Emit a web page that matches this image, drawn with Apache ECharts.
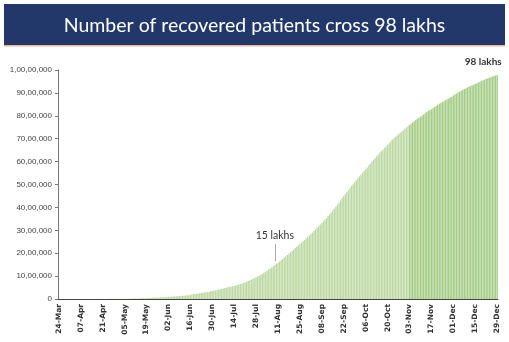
<!DOCTYPE html>
<html><head><meta charset="utf-8">
<script src="https://cdn.jsdelivr.net/npm/echarts@6/dist/echarts.min.js"></script>
<style>html,body{margin:0;padding:0;background:#fff}#c{width:509px;height:342px}</style>
</head><body><div id="c"></div>
<script>
// Daily dates, 24-Mar to 29-Dec (2020)
const startDate = '2020-03-24';
const dayCount = 281;
// Cumulative recovered patients, in lakhs, one value per day
const recoveredLakhs = [
 0.00,0.00,0.00,0.00,0.00,0.00,0.00,0.00,0.00,0.00,0.00,0.00,0.00,0.00,
 0.00,0.01,0.01,0.01,0.01,0.01,0.01,0.01,0.01,0.02,0.02,0.02,0.03,0.03,
 0.04,0.04,0.05,0.05,0.06,0.06,0.07,0.07,0.08,0.09,0.09,0.10,0.11,0.12,
 0.13,0.14,0.15,0.16,0.17,0.19,0.21,0.22,0.24,0.26,0.28,0.31,0.34,0.36,
 0.39,0.42,0.46,0.49,0.52,0.55,0.58,0.61,0.64,0.68,0.71,0.77,0.82,0.91,
 0.96,1.00,1.04,1.09,1.14,1.19,1.24,1.30,1.35,1.41,1.47,1.54,1.62,1.69,
 1.87,1.94,2.04,2.14,2.27,2.37,2.48,2.58,2.71,2.85,2.95,3.09,3.21,3.34,
 3.48,3.60,3.79,3.95,4.10,4.24,4.40,4.57,4.77,4.96,5.15,5.34,5.35,5.53,
 5.72,5.93,6.12,6.35,6.53,6.77,7.01,7.24,7.54,7.83,8.17,8.49,8.85,9.17,
 9.52,9.89,10.20,10.57,10.95,11.46,11.87,12.30,12.82,13.28,13.78,14.27,14.80,15.35,
 15.83,16.39,16.96,17.51,18.08,18.62,19.20,19.78,20.38,20.97,21.58,22.23,22.80,23.38,
 24.04,24.67,25.23,25.84,26.49,27.13,27.75,28.39,29.02,29.70,30.37,31.07,31.80,32.50,
 33.24,33.98,34.72,35.43,36.24,37.03,37.81,38.60,39.43,40.25,41.13,42.08,43.03,44.01,
 44.98,45.88,46.74,47.57,48.50,49.41,50.16,51.01,51.87,52.73,53.53,54.27,55.10,55.87,
 56.63,57.44,58.27,59.06,59.89,60.78,61.50,62.27,63.02,63.83,64.54,65.24,65.98,66.63,
 67.33,68.01,68.74,69.49,70.16,70.79,71.38,72.01,72.59,73.16,73.73,74.33,74.92,75.45,
 76.03,76.56,77.11,77.65,78.19,78.68,79.18,79.60,80.13,80.66,81.15,81.63,82.05,82.49,
 82.90,83.35,83.84,84.28,84.78,85.21,85.62,86.04,86.42,86.80,87.18,87.59,87.95,88.31,
 88.89,89.32,89.73,90.16,90.58,90.99,91.35,91.72,92.06,92.40,92.75,93.06,93.32,93.56,
 93.88,94.22,94.56,94.89,95.20,95.50,95.80,96.06,96.36,96.63,96.93,97.17,97.40,97.61,
 97.83
];
const yTicksLakhs = [0,10,20,30,40,50,60,70,80,90,100];
const titleText = 'Number of recovered patients cross 98 lakhs';
const annot15 = {date: '09-Aug', label: '15 lakhs', from: 16.5, to: 24};
const annot98 = '98 lakhs';
const colorChangeDate = '03-Nov';

const months = ['Jan','Feb','Mar','Apr','May','Jun','Jul','Aug','Sep','Oct','Nov','Dec'];
const categories = [];
{
  const d0 = new Date(startDate + 'T00:00:00Z');
  for (let i = 0; i < dayCount; i++) {
    const d = new Date(d0.getTime() + i * 86400000);
    categories.push(String(d.getUTCDate()).padStart(2,'0') + '-' + months[d.getUTCMonth()]);
  }
}
function indian(v) {
  const n = Math.round(v * 100000);
  if (n === 0) return '0';
  let s = String(n);
  let last3 = s.slice(-3), rest = s.slice(0, -3);
  if (rest) last3 = ',' + last3;
  rest = rest.replace(/\B(?=(\d{2})+(?!\d))/g, ',');
  return rest + last3;
}
const changeIdx = categories.indexOf(colorChangeDate);
const chart = echarts.init(document.getElementById('c'), null, {renderer: 'canvas'});
chart.setOption({
  animation: false,
  backgroundColor: '#fff',
  graphic: [
    {type: 'rect', shape: {x: 4, y: 4, width: 501, height: 41}, style: {fill: '#22386a'}, z: 0},
    {type: 'rect', shape: {x: 4, y: 45, width: 501, height: 1.5}, style: {fill: '#f2b48e'}, z: 0}
  ],
  title: {
    text: titleText, left: 'center', top: 11,
    textStyle: {color: '#fff', fontSize: 19.5, fontWeight: 'normal', fontFamily: 'Lato'}
  },
  grid: {left: 58, right: 11, top: 70, bottom: 43},
  xAxis: {
    type: 'category', data: categories, boundaryGap: true,
    axisLine: {lineStyle: {color: '#444', width: 1}},
    axisTick: {alignWithLabel: true, interval: 13, length: 3, lineStyle: {color: '#444'}},
    axisLabel: {interval: 13, rotate: 90, fontSize: 7.5, fontWeight: 'bold', color: '#333', fontFamily: 'DejaVu Sans', margin: 5}
  },
  yAxis: {
    type: 'value', min: 0, max: 100, interval: 10,
    splitLine: {show: false},
    axisLine: {show: true, lineStyle: {color: '#777'}},
    axisTick: {show: true, length: 3, lineStyle: {color: '#777'}},
    axisLabel: {fontSize: 8, color: '#444', fontFamily: 'Liberation Sans', margin: 6, formatter: v => indian(v)}
  },
  series: [{
    type: 'bar', data: recoveredLakhs, barCategoryGap: '15%',
    itemStyle: {color: p => p.dataIndex < changeIdx ? '#bcd9a3' : '#a5cd88'},
    markLine: {
      silent: true, symbol: 'none',
      lineStyle: {color: '#aaa', width: 1, type: 'solid'},
      label: {show: true, position: 'end', formatter: annot15.label, color: '#333', fontSize: 10.5, fontFamily: 'Lato', distance: 3},
      data: [[{coord: [annot15.date, annot15.from]}, {coord: [annot15.date, annot15.to]}]]
    },
    markPoint: {
      symbol: 'circle', symbolSize: 0,
      label: {show: true, formatter: annot98, position: 'top', offset: [-14, -3], color: '#333', fontSize: 10, fontFamily: 'Lato', fontWeight: 'bold'},
      data: [{coord: [categories[categories.length - 1], recoveredLakhs[recoveredLakhs.length - 1]]}]
    }
  }]
});
</script></body></html>
